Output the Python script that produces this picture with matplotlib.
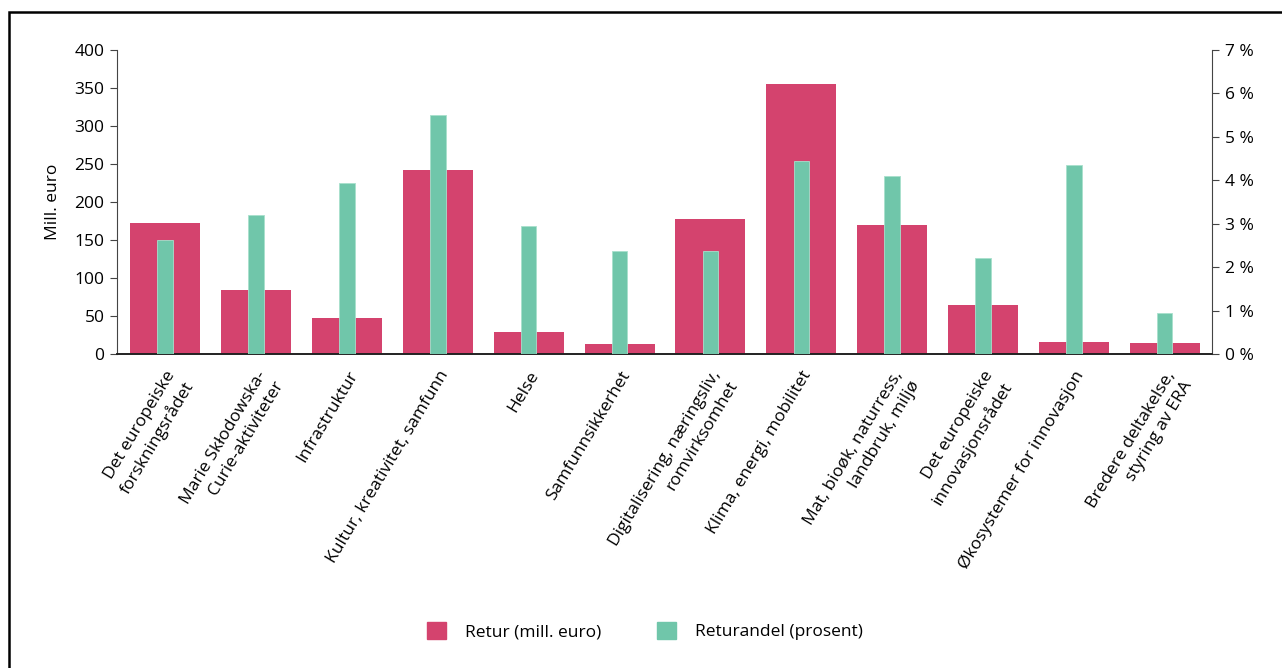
import matplotlib.pyplot as plt
import matplotlib.patches as mpatches
import matplotlib.transforms as mtransforms
import numpy as np

plt.rcParams['font.family'] = ['Open Sans', 'DejaVu Sans']

kategorier = [
    'Det europeiske\nforskningsrådet',
    'Marie Skłodowska-\nCurie-aktiviteter',
    'Infrastruktur',
    'Kultur, kreativitet, samfunn',
    'Helse',
    'Samfunnsikkerhet',
    'Digitalisering, næringsliv,\nromvirksomhet',
    'Klima, energi, mobilitet',
    'Mat, bioøk, naturress,\nlandbruk, miljø',
    'Det europeiske\ninnovasjonsrådet',
    'Økosystemer for innovasjon',
    'Bredere deltakelse,\nstyring av ERA',
]
retur = [172, 84, 47, 242, 29, 13, 178, 355, 170, 64, 16, 14]          # mill. euro
returandel = [2.63, 3.2, 3.93, 5.5, 2.95, 2.37, 2.37, 4.44, 4.1, 2.2, 4.35, 0.94]  # prosent

rosa = '#D4436E'
gronn = '#70C6AA'

fig = plt.figure(figsize=(12.82, 6.68), dpi=100)
ax = fig.add_axes([0.0913, 0.47, 0.8541, 0.4551])
ax2 = ax.twinx()

x = np.arange(len(kategorier))
ax.bar(x, retur, width=0.77, color=rosa, zorder=2)
ax2.bar(x, returandel, width=0.17, color=gronn, edgecolor='#a8e0cc', linewidth=0.6, zorder=3)

ax.set_xlim(-0.53, len(kategorier) - 0.48)
ax.set_ylim(0, 400)
ax.set_yticks(range(0, 401, 50))
ax2.set_ylim(0, 7)
ax2.set_yticks(range(0, 8))
ax2.set_yticklabels([f'{v} %' for v in range(0, 8)])

ax.set_xticks(x)
ax.set_xticklabels(kategorier, rotation=59, ha='right', va='top',
                   rotation_mode='anchor', fontsize=12.5, multialignment='right',
                   linespacing=1.3)
# nudge the rotated labels a little to the left
shift = mtransforms.ScaledTranslation(-6 / 72, 0, fig.dpi_scale_trans)
for lbl in ax.get_xticklabels():
    lbl.set_transform(lbl.get_transform() + shift)
ax.tick_params(axis='x', length=0, pad=10)
ax.tick_params(axis='y', labelsize=12.5, length=5, color='#444444', pad=4)
ax2.tick_params(axis='y', labelsize=12.5, length=5, color='#444444', pad=4)
ax.set_ylabel('Mill. euro', fontsize=12.5, labelpad=10)

for a in (ax, ax2):
    a.spines['top'].set_visible(False)
    a.spines['left'].set_color('#444444')
    a.spines['right'].set_color('#444444')
    a.spines['bottom'].set_color('#222222')
    a.spines['bottom'].set_linewidth(1.2)
ax.spines['right'].set_visible(False)
ax2.spines['left'].set_visible(False)

handles = [mpatches.Patch(color=rosa, label='Retur (mill. euro)'),
           mpatches.Patch(color=gronn, label='Returandel (prosent)')]
fig.legend(handles=handles, loc='center', bbox_to_anchor=(0.503, 0.055), ncol=2,
           frameon=False, fontsize=12.5, handlelength=1.1, handleheight=1.1,
           columnspacing=3.2, handletextpad=1.1)

# Frame around the figure (only left and top edges are inside the canvas)
fig.add_artist(mpatches.Rectangle((9 / 1282, -0.1), 1.2, 1 - 12 / 668 + 0.1,
                                  transform=fig.transFigure, fill=False,
                                  edgecolor='black', linewidth=1.8))

fig.savefig('out.png', dpi=100)
